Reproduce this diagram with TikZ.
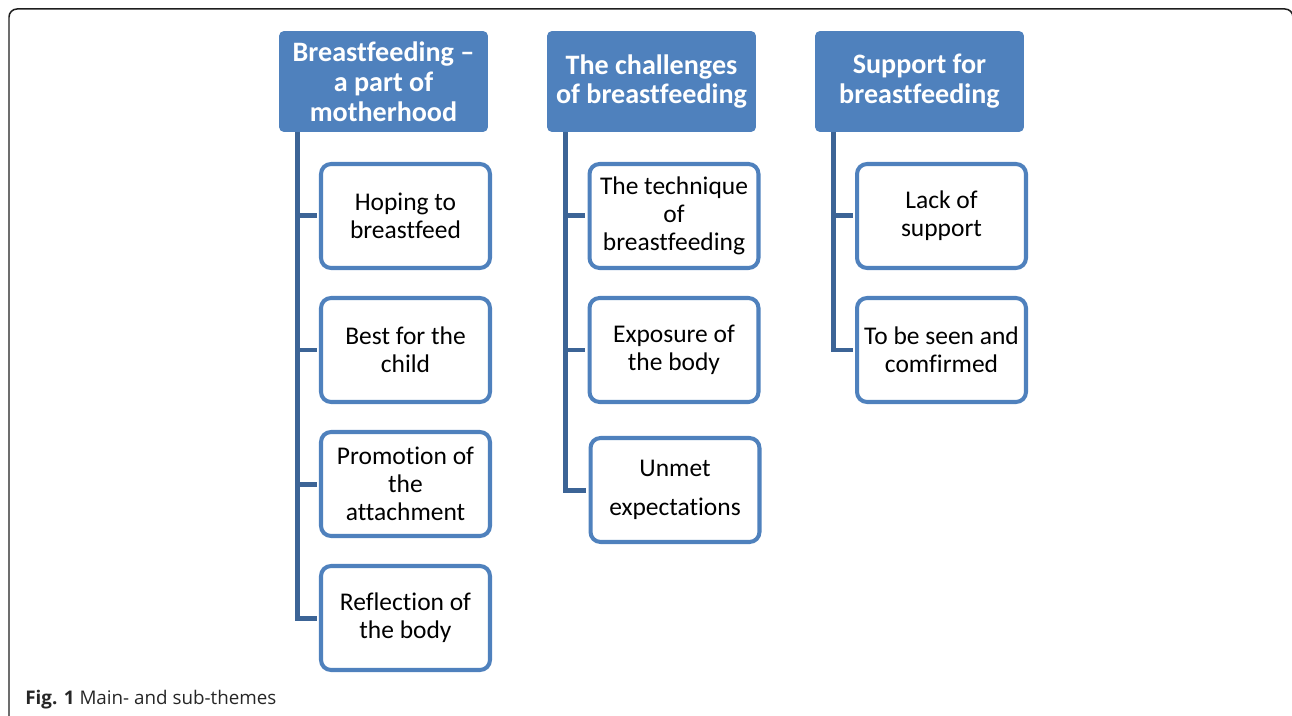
\documentclass[tikz,border=0pt]{standalone}
\usepackage{fontspec}
\setmainfont{Carlito}[Ligatures=NoCommon]
\newfontfamily\capfont{Open Sans}
\usepackage{tikz}
\usetikzlibrary{positioning, calc}
\usepackage{xcolor}
\definecolor{themeblue}{RGB}{79, 129, 189}
\definecolor{branchblue}{RGB}{60, 100, 150}
\definecolor{framegray}{RGB}{30, 30, 30}
\tikzstyle{theme} = [fill=themeblue, rounded corners=0.1cm, text=white, align=center, minimum width=4.18cm, minimum height=2.02cm, font=\fontsize{16}{17}\selectfont\bfseries]
\tikzstyle{subtheme} = [draw=themeblue, line width=2.3pt, fill=white, rounded corners=0.2cm, align=center, minimum width=3.38cm, minimum height=2.08cm, font=\fontsize{14.5}{16}\selectfont]
\tikzstyle{branch} = [line width=0.1cm, branchblue, shorten >=1.15pt]

\begin{document}
\begin{tikzpicture}[x=0.02cm, y=-0.02cm]
\clip (0,0) rectangle (1292,716);
% Outer frame
\draw[framegray, line width=0.85pt, rounded corners=0.16cm] (9,9) rectangle (1293,780);

% Main themes
\foreach \x/\name/\txt in {383.5/m1/{Breastfeeding –\\a part of\\motherhood}, 651.5/m2/{The challenges\\of breastfeeding}, 919.5/m3/{Support for\\breastfeeding}} {
    \node[theme] (\name) at (\x,81.5) {\txt};
}

% Sub-themes
\foreach \x/\y/\name/\txt in {
    405.5/216/s11/{Hoping to\\breastfeed}, 405.5/350/s12/{Best for the\\child}, 405.5/484/s13/{Promotion of\\the\\attachment}, 405.5/618/s14/{Reflection of\\the body},
    674/216/s21/{The technique\\of\\breastfeeding}, 674/350/s22/{Exposure of\\the body}, 675/490/s23/{Unmet\\[6pt]expectations},
    941.5/216/s31/{Lack of\\support}, 941.5/350/s32/{To be seen and\\comfirmed}} {
    \node[subtheme] (\name) at (\x,\y) {\txt};
}

% Connectors
\foreach \m/\s in {m1/s11, m1/s12, m1/s13, m1/s14, m2/s21, m2/s22, m2/s23, m3/s31, m3/s32} {
    \draw[branch] ($(\m.south west)+(19,0)$) |- (\s.west);
}

% Caption
\node[anchor=west, inner sep=0pt, font=\capfont\fontsize{10.7}{12}\selectfont, text=black!85] (caption) at (25,700) {\textbf{Fig. 1} Main- and sub-themes};
\end{tikzpicture}
\end{document}
